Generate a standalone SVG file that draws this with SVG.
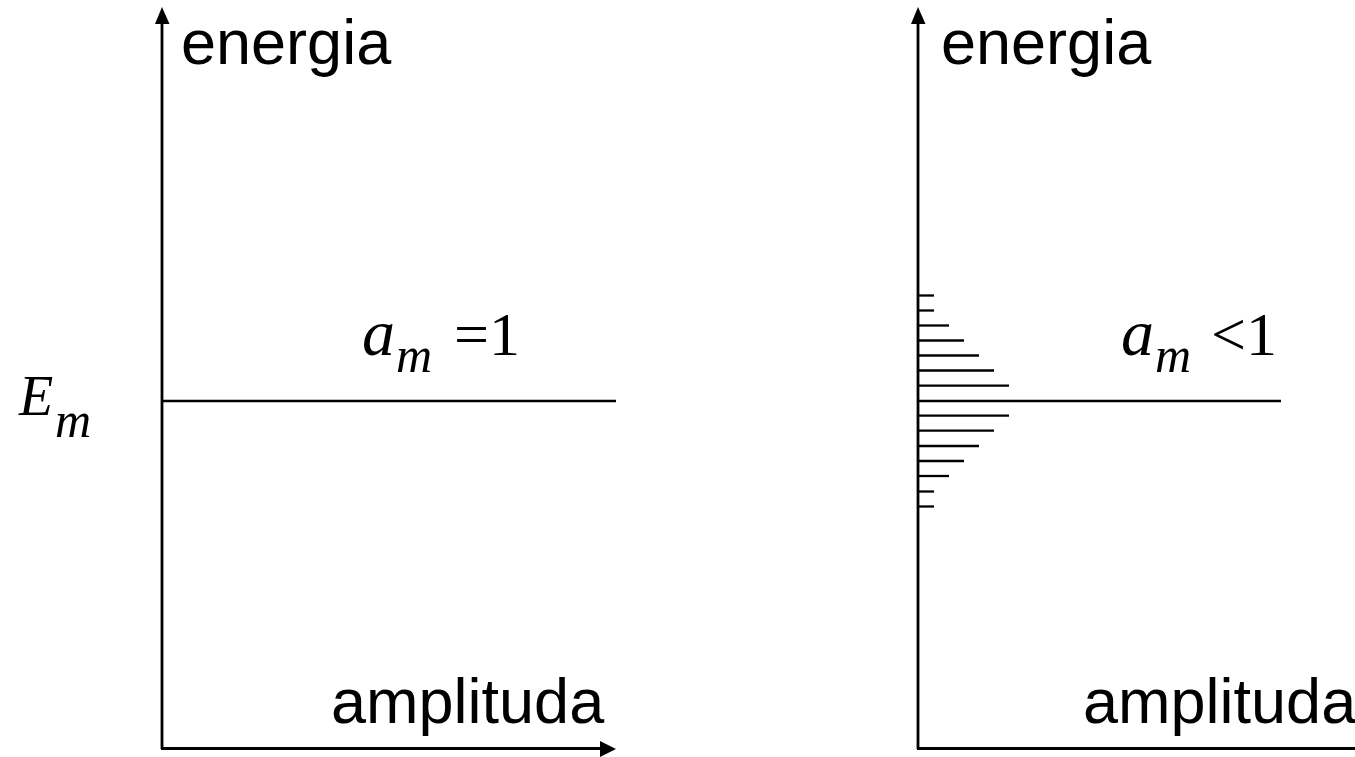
<svg xmlns="http://www.w3.org/2000/svg" width="1355" height="757" viewBox="0 0 1355 757">
<style>
.ax{stroke:#000;stroke-width:2.8;fill:none}
.ln{stroke:#000;stroke-width:2.3;fill:none}
.lbl{font-family:"Liberation Sans",Arial,sans-serif;font-size:63px;fill:#000}
.it{font-family:"Liberation Serif","Times New Roman",serif;font-style:italic;fill:#000}
.rm{font-family:"Liberation Serif","Times New Roman",serif;fill:#000}
.ah{fill:#000}
</style>
<rect width="1355" height="757" fill="#fff"/>
<g id="connectors">
<line class="ax" x1="162" y1="749" x2="162" y2="20"/>
<polygon class="ah" points="162,7 155,24 169.5,24"/>
<line class="ax" x1="161" y1="748.5" x2="603" y2="748.5"/>
<polygon class="ah" points="616,749 600,741 600,757"/>
<line class="ax" x1="918" y1="749" x2="918" y2="20"/>
<polygon class="ah" points="918,7 911,24 925.5,24"/>
<line class="ax" x1="917" y1="748.5" x2="1355" y2="748.5"/>
</g>
<g id="left-level">
<line class="ln" x1="162" y1="401" x2="616" y2="401"/>
</g>
<g id="right-level">
<line class="ln" x1="918" y1="401" x2="1281" y2="401"/>
</g>
<g id="histogram">
<line class="ln" x1="918" y1="295.5" x2="934" y2="295.5"/>
<line class="ln" x1="918" y1="310.5" x2="934" y2="310.5"/>
<line class="ln" x1="918" y1="325.5" x2="949" y2="325.5"/>
<line class="ln" x1="918" y1="340.5" x2="964" y2="340.5"/>
<line class="ln" x1="918" y1="355.5" x2="979" y2="355.5"/>
<line class="ln" x1="918" y1="370.5" x2="994" y2="370.5"/>
<line class="ln" x1="918" y1="385.7" x2="1009" y2="385.7"/>
<line class="ln" x1="918" y1="415.7" x2="1009" y2="415.7"/>
<line class="ln" x1="918" y1="430.7" x2="994" y2="430.7"/>
<line class="ln" x1="918" y1="446" x2="979" y2="446"/>
<line class="ln" x1="918" y1="461" x2="964" y2="461"/>
<line class="ln" x1="918" y1="476" x2="949" y2="476"/>
<line class="ln" x1="918" y1="491.5" x2="934" y2="491.5"/>
<line class="ln" x1="918" y1="506.5" x2="934" y2="506.5"/>
</g>
<g id="label-energia-left"><text class="lbl" x="181" y="64">energia</text></g>
<g id="label-amplituda-left"><text class="lbl" x="331" y="723">amplituda</text></g>
<g id="label-energia-right"><text class="lbl" x="941" y="64">energia</text></g>
<g id="label-amplituda-right"><text class="lbl" x="1083" y="723">amplituda</text></g>
<g id="label-am-eq1">
<text class="it" x="362" y="355" font-size="66">a</text>
<text class="it" x="396" y="372" font-size="50">m</text>
<text class="rm" x="454" y="355" font-size="62">=1</text>
</g>
<g id="label-am-lt1">
<text class="it" x="1121" y="355" font-size="66">a</text>
<text class="it" x="1155" y="372" font-size="50">m</text>
<text class="rm" x="1211" y="355" font-size="62">&lt;1</text>
</g>
<g id="label-Em">
<text class="it" x="19" y="415" font-size="56">E</text>
<text class="it" x="55" y="437" font-size="50">m</text>
</g>
</svg>
